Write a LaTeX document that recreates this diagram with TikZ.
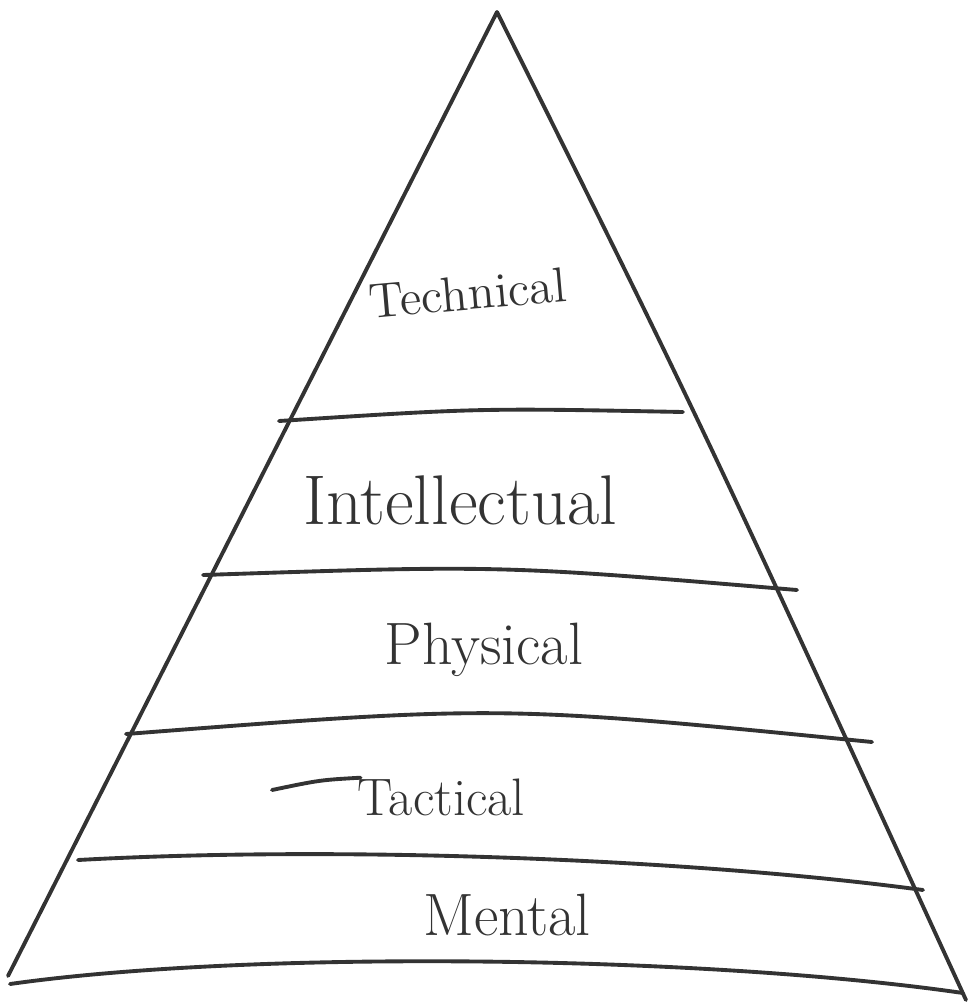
\documentclass[tikz,border=0pt]{standalone}
\usepackage{tikz}
\usetikzlibrary{positioning}
\usepackage{xcolor}
\definecolor{pen}{HTML}{333333}

\begin{document}
\begin{tikzpicture}[x=0.01cm,y=-0.01cm]
    \tikzstyle{stroke} = [draw=pen, line width=1.1pt, line cap=round, line join=round]
    \tikzstyle{lvl} = [text=pen, inner sep=0pt]
    \useasboundingbox (0,0) rectangle (968,1002);
    % corners of the pyramid
    \coordinate (top) at (497,12);
    \coordinate (botl) at (8,976);
    \coordinate (botr) at (966,1000);
    \draw [stroke] (botl) -- (top) .. controls (700,420) .. (botr);
    % level lines
    \coordinate (l1a) at (279,421); \coordinate (l1b) at (683,412);
    \coordinate (l2a) at (203,575); \coordinate (l2b) at (797,590);
    \coordinate (l3a) at (126,734); \coordinate (l3b) at (872,742);
    \coordinate (l4a) at (78,860);  \coordinate (l4b) at (923,890);
    \coordinate (l5a) at (10,984);  \coordinate (l5b) at (963,993);
    \draw [stroke] (l1a) .. controls (480,408) .. (l1b);
    \draw [stroke] (l2a) .. controls (500,565) .. (l2b);
    \draw [stroke] (l3a) .. controls (500,705) .. (l3b);
    \draw [stroke] (l4a) .. controls (350,845) and (700,860) .. (l4b);
    \draw [stroke] (l5a) .. controls (250,950) and (700,955) .. (l5b);
    % labels
    \node [lvl, font=\fontsize{14}{16}\selectfont, rotate=5] (technical) at (468,293) {Technical};
    \node [lvl, font=\fontsize{20}{24}\selectfont] (intellectual) at (460,500) {Intellectual};
    \node [lvl, font=\fontsize{17}{20}\selectfont] (physical) at (484,650) {Physical};
    \node [lvl, font=\fontsize{15}{18}\selectfont, anchor=base west] (tactical) at (357,815) {Tactical};
    \node [lvl, font=\fontsize{17}{20}\selectfont] (mental) at (507,915) {Mental};
    \coordinate (tbar) at (272,790);
    \draw [stroke] (tbar) .. controls (320,780) .. ([xshift=1pt]tactical.north west);
\end{tikzpicture}
\end{document}
